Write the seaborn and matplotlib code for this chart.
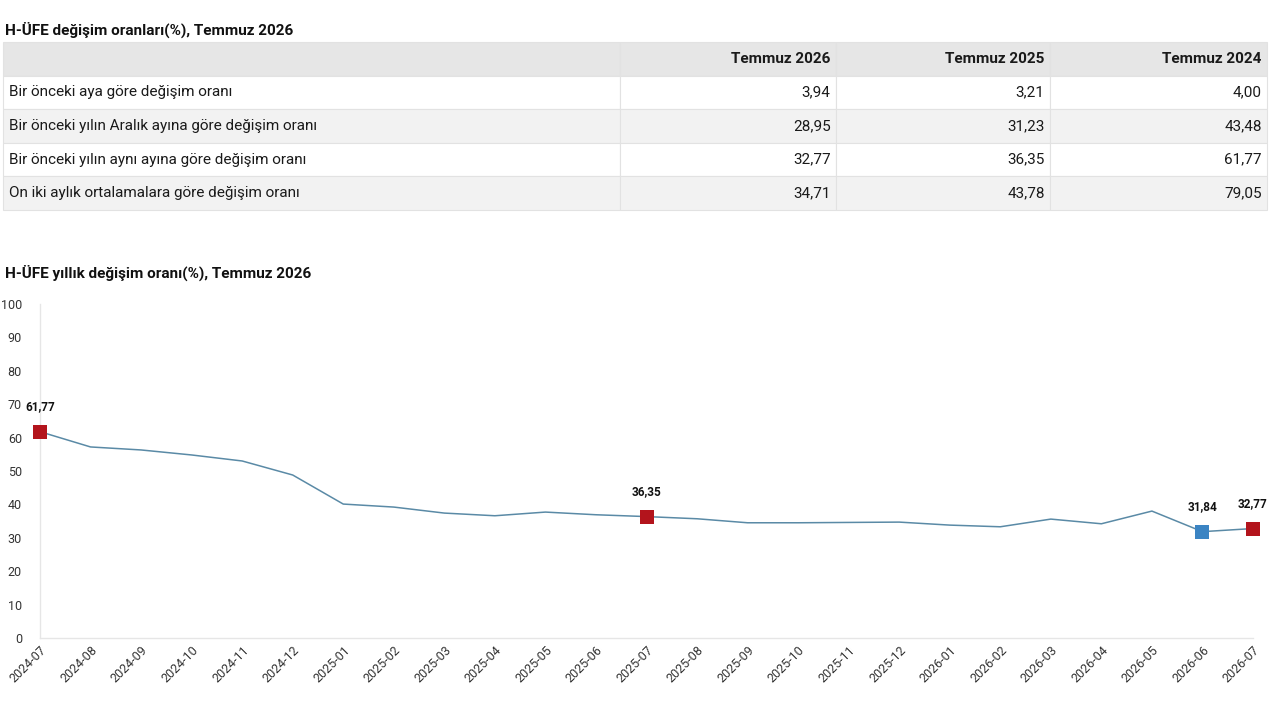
import pandas as pd
import matplotlib
matplotlib.use('Agg')
import matplotlib.pyplot as plt
import seaborn as sns

# Table data
row_labels = ['Bir önceki aya göre değişim oranı',
              'Bir önceki yılın Aralık ayına göre değişim oranı',
              'Bir önceki yılın aynı ayına göre değişim oranı',
              'On iki aylık ortalamalara göre değişim oranı']
col_labels = ['Temmuz 2026', 'Temmuz 2025', 'Temmuz 2024']
temmuz_2026 = ['3,94', '28,95', '32,77', '34,71']
temmuz_2025 = ['3,21', '31,23', '36,35', '43,78']
temmuz_2024 = ['4,00', '43,48', '61,77', '79,05']

# Line chart data
months = ['2024-07', '2024-08', '2024-09', '2024-10', '2024-11', '2024-12',
          '2025-01', '2025-02', '2025-03', '2025-04', '2025-05', '2025-06',
          '2025-07', '2025-08', '2025-09', '2025-10', '2025-11', '2025-12',
          '2026-01', '2026-02', '2026-03', '2026-04', '2026-05', '2026-06',
          '2026-07']
annual_rate = [61.77, 57.2, 56.3, 54.8, 53.0, 48.8,
               40.1, 39.2, 37.4, 36.6, 37.7, 36.9,
               36.35, 35.7, 34.5, 34.5, 34.6, 34.7,
               33.8, 33.3, 35.6, 34.2, 38.0, 31.84,
               32.77]
highlight_months = ['2024-07', '2025-07', '2026-06', '2026-07']
highlight_colors = ['#b3141c', '#b3141c', '#3b84c3', '#b3141c']

sns.set_theme(style='white')
plt.rcParams['font.family'] = ['Roboto', 'DejaVu Sans']

fig = plt.figure(figsize=(12.8, 7.2), dpi=100)

# ---- table ----
fig.text(5 / 1280, 1 - 30 / 720, 'H-ÜFE değişim oranları(%), Temmuz 2026',
         fontsize=11, fontweight='bold', va='center', ha='left', color='#111111')
tax = fig.add_axes([3 / 1280, 1 - 210 / 720, 1264 / 1280, 168 / 720])
tax.axis('off')
cells = [[''] + col_labels]
for i, lab in enumerate(row_labels):
    cells.append([lab, temmuz_2026[i], temmuz_2025[i], temmuz_2024[i]])
widths = [617 / 1264, 216 / 1264, 214 / 1264, 217 / 1264]
tbl = tax.table(cellText=cells, colWidths=widths, bbox=[0, 0, 1, 1], cellLoc='right')
tbl.auto_set_font_size(False)
for (r, c), cell in tbl.get_celld().items():
    cell.set_edgecolor('#e2e2e2')
    cell.set_linewidth(0.8)
    txt = cell.get_text()
    txt.set_fontsize(11)
    txt.set_color('#1a1a1a')
    if r == 0:
        cell.set_facecolor('#e6e6e6')
        txt.set_fontweight('bold')
    elif r % 2 == 0:
        cell.set_facecolor('#f2f2f2')
    else:
        cell.set_facecolor('#ffffff')
    if c == 0:
        txt.set_ha('left')
        cell.PAD = 0.01
    else:
        txt.set_ha('right')
        cell.PAD = 0.025

# ---- line chart ----
fig.text(5 / 1280, 1 - 273 / 720, 'H-ÜFE yıllık değişim oranı(%), Temmuz 2026',
         fontsize=11, fontweight='bold', va='center', ha='left', color='#111111')
ax = fig.add_axes([40 / 1280, 1 - 638 / 720, 1213 / 1280, 334 / 720])
df = pd.DataFrame({'month': months, 'rate': annual_rate})
sns.lineplot(data=df, x='month', y='rate', ax=ax, color='#5a8aa6', linewidth=1.1)

hl = df[df['month'].isin(highlight_months)].copy()
hl['color'] = highlight_colors
for _, row in hl.iterrows():
    ax.scatter(row['month'], row['rate'], marker='s', s=110, color=row['color'],
               zorder=5, clip_on=False, linewidths=0)
    ax.annotate(f"{row['rate']:.2f}".replace('.', ','), (row['month'], row['rate']),
                xytext=(0, 18), textcoords='offset points', ha='center', va='center',
                fontsize=8.5, fontweight='bold', color='#111111', annotation_clip=False)

ax.set_ylim(0, 100)
ax.set_xlim(0, len(months) - 1)
ax.set_yticks(range(0, 101, 10))
ax.set_xlabel('')
ax.set_ylabel('')
ax.tick_params(axis='y', length=0, pad=13, labelsize=9, labelcolor='#333333')
ax.tick_params(axis='x', length=0, pad=4, labelsize=9, labelcolor='#333333')
plt.setp(ax.get_xticklabels(), rotation=45, ha='right', rotation_mode='anchor')
for side in ['top', 'right']:
    ax.spines[side].set_visible(False)
for side in ['left', 'bottom']:
    ax.spines[side].set_color('#e6e6e6')
    ax.spines[side].set_linewidth(1)

fig.savefig('out.png', dpi=100)
